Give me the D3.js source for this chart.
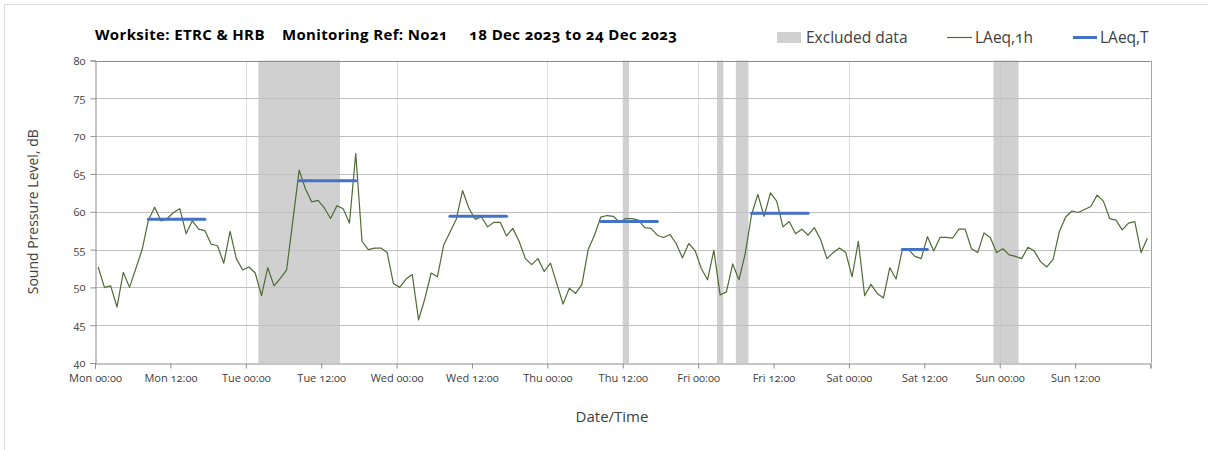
<!DOCTYPE html>
<html>
<head>
<meta charset="utf-8">
<script src="https://cdn.jsdelivr.net/npm/d3@7/dist/d3.min.js"></script>
<style>
  html, body { margin: 0; padding: 0; background: #fff; }
  svg { display: block; }
  text { font-family: "Open Sans", "Noto Sans", sans-serif; font-variant-numeric: oldstyle-nums; font-feature-settings: "onum" 1; }
</style>
</head>
<body>
<svg id="chart" width="1208" height="450"></svg>
<script>
// ---- data ----
const titleText = "Worksite: ETRC & HRB    Monitoring Ref: No21     18 Dec 2023 to 24 Dec 2023";
const hours = d3.range(168); // hour index from Mon 00:00, value plotted at hour midpoint
const lAeq1h = [
  52.7, 50.0, 50.2, 47.4, 52.0, 50.0, 52.5, 55.0, 58.9, 60.6, 58.8, 59.1, 59.9, 60.4, 57.1, 58.8, 57.7, 57.5, 55.7, 55.5, 53.2, 57.4, 53.8, 52.3,
  52.7, 51.9, 48.9, 52.6, 50.2, 51.2, 52.3, 58.9, 65.5, 63.0, 61.3, 61.5, 60.5, 59.1, 60.8, 60.4, 58.5, 67.7, 56.1, 55.0, 55.2, 55.2, 54.6, 50.5,
  50.0, 51.1, 51.7, 45.7, 48.5, 51.9, 51.4, 55.6, 57.3, 59.0, 62.8, 60.5, 59.0, 59.3, 58.0, 58.6, 58.6, 56.8, 57.8, 56.1, 53.8, 53.0, 53.8, 52.1,
  53.2, 50.5, 47.8, 49.9, 49.2, 50.4, 55.0, 56.9, 59.3, 59.5, 59.4, 58.6, 59.1, 59.1, 58.9, 57.9, 57.8, 56.9, 56.6, 57.0, 55.8, 53.9, 55.8, 54.9,
  52.5, 51.0, 54.9, 49.0, 49.4, 53.1, 51.0, 54.5, 59.6, 62.3, 59.4, 62.5, 61.4, 58.0, 58.7, 57.1, 57.7, 56.9, 57.9, 56.3, 53.8, 54.6, 55.2, 54.6,
  51.4, 56.1, 48.9, 50.4, 49.2, 48.6, 52.6, 51.1, 55.0, 55.0, 54.1, 53.8, 56.7, 54.8, 56.6, 56.6, 56.5, 57.7, 57.7, 55.1, 54.6, 57.2, 56.6, 54.6,
  55.1, 54.3, 54.1, 53.8, 55.3, 54.8, 53.4, 52.7, 53.7, 57.4, 59.3, 60.1, 59.9, 60.3, 60.7, 62.2, 61.4, 59.1, 58.9, 57.6, 58.5, 58.7, 54.6, 56.5
];
// LAeq,T periods: [start hour, end hour, level]
const periodStart = [8, 32, 56, 80, 104, 128];
const periodEnd   = [18, 42, 66, 90, 114, 133];
const lAeqT       = [59.0, 64.1, 59.4, 58.7, 59.8, 55.0];
// Excluded data: [start hour, end hour]
const exclStart = [26, 84, 99, 102, 143];
const exclEnd   = [39, 85, 100, 104, 147];
const xTickLabels = ["Mon 00:00","Mon 12:00","Tue 00:00","Tue 12:00","Wed 00:00","Wed 12:00","Thu 00:00",
                     "Thu 12:00","Fri 00:00","Fri 12:00","Sat 00:00","Sat 12:00","Sun 00:00","Sun 12:00"];
const yTicks = [40, 45, 50, 55, 60, 65, 70, 75, 80];
const dayGrid = [24, 48, 72, 96, 120, 144];

// ---- layout ----
const svg = d3.select("#chart");
const L = 95, R = 1150.5, T = 60.5, B = 363;
const x = d3.scaleLinear().domain([0, 168]).range([L, R]);
const y = d3.scaleLinear().domain([40, 80]).range([B, T]);

// outer frame
svg.append("rect").attr("x", 4.5).attr("y", 4.5).attr("width", 1230).attr("height", 470)
  .attr("fill", "none").attr("stroke", "#d9d9d9");

// excluded
svg.append("g").selectAll("rect").data(exclStart).join("rect")
  .attr("x", (d) => x(d)).attr("width", (d, i) => x(exclEnd[i]) - x(d))
  .attr("y", T).attr("height", B - T).attr("fill", "#d0d0d0");

// vertical day grid
svg.append("g").selectAll("line").data(dayGrid).join("line")
  .attr("x1", d => Math.round(x(d)) + 0.5).attr("x2", d => Math.round(x(d)) + 0.5)
  .attr("y1", T).attr("y2", B).attr("stroke", "#c4c4c4").attr("stroke-opacity", 0.6).attr("stroke-width", 1);

// horizontal grid
svg.append("g").selectAll("line").data(yTicks.slice(1)).join("line")
  .attr("x1", L).attr("x2", R)
  .attr("y1", d => Math.round(y(d)) + 0.5).attr("y2", d => Math.round(y(d)) + 0.5)
  .attr("stroke", "#bfbfbf").attr("stroke-width", 1);

// right / top border
svg.append("line").attr("x1", Math.round(R) + 0.5).attr("x2", Math.round(R) + 0.5)
  .attr("y1", T).attr("y2", B).attr("stroke", "#a6a6a6");
svg.append("line").attr("x1", L).attr("x2", R)
  .attr("y1", Math.round(T)+0.5).attr("y2", Math.round(T)+0.5).attr("stroke", "#8c8c8c");

// axes
const yAxis = d3.axisLeft(y).tickValues(yTicks).tickSize(5).tickPadding(5).tickFormat(d3.format("d"));
const gy = svg.append("g").attr("transform", `translate(${L + 0.5},0)`).call(yAxis);
gy.select(".domain").attr("stroke", "#8c8c8c");
gy.selectAll(".tick line").attr("stroke", "#8c8c8c");
gy.selectAll(".tick text").attr("fill", "#404040").style("font-size", "11px");

const xAxis = d3.axisBottom(x).tickValues(d3.range(0, 169, 12)).tickSize(5).tickPadding(6)
  .tickFormat((d, i) => xTickLabels[i] || "");
const gx = svg.append("g").attr("transform", `translate(0,${Math.round(B) + 0.5})`).call(xAxis);
gx.select(".domain").attr("stroke", "#8c8c8c");
gx.selectAll(".tick line").attr("stroke", "#8c8c8c");
gx.selectAll(".tick text").attr("fill", "#404040").style("font-size", "11px");

// LAeq,1h line
const line = d3.line().x((d, i) => x(hours[i] + 0.5)).y(d => y(d));
svg.append("path").datum(lAeq1h).attr("d", line)
  .attr("fill", "none").attr("stroke", "#4f6b35").attr("stroke-width", 1.2).attr("stroke-linejoin", "round");

// LAeq,T segments
svg.append("g").selectAll("line").data(lAeqT).join("line")
  .attr("x1", (d, i) => x(periodStart[i] + 0.5)).attr("x2", (d, i) => x(periodEnd[i] - 0.5))
  .attr("y1", d => y(d)).attr("y2", d => y(d))
  .attr("stroke", "#4472c4").attr("stroke-width", 3).attr("stroke-linecap", "round");

// title
svg.append("text").attr("x", 95).attr("y", 40).attr("font-weight", "bold")
  .style("font-size", "15px").attr("fill", "#000").attr("xml:space", "preserve")
  .style("white-space", "pre").attr("textLength", 582).attr("lengthAdjust", "spacing").text(titleText);

// legend
const lg = svg.append("g").style("font-size", "15.5px").attr("fill", "#404040");
lg.append("rect").attr("x", 777).attr("y", 32).attr("width", 24).attr("height", 11).attr("fill", "#d0d0d0");
lg.append("text").attr("x", 806).attr("y", 43).text("Excluded data");
lg.append("line").attr("x1", 947).attr("x2", 972).attr("y1", 37.5).attr("y2", 37.5).attr("stroke", "#4f6b35").attr("stroke-width", 1.2);
lg.append("text").attr("x", 975).attr("y", 43).text("LAeq,1h");
lg.append("line").attr("x1", 1073).attr("x2", 1097).attr("y1", 37.5).attr("y2", 37.5).attr("stroke", "#4472c4").attr("stroke-width", 3);
lg.append("text").attr("x", 1100).attr("y", 43).text("LAeq,T");

// axis titles
svg.append("text").attr("transform", `translate(38,${(T + B) / 2}) rotate(-90)`)
  .attr("text-anchor", "middle").style("font-size", "14px").attr("fill", "#404040")
  .text("Sound Pressure Level, dB");
svg.append("text").attr("x", 612).attr("y", 422).attr("text-anchor", "middle")
  .style("font-size", "15px").attr("fill", "#404040").text("Date/Time");
</script>
</body>
</html>
